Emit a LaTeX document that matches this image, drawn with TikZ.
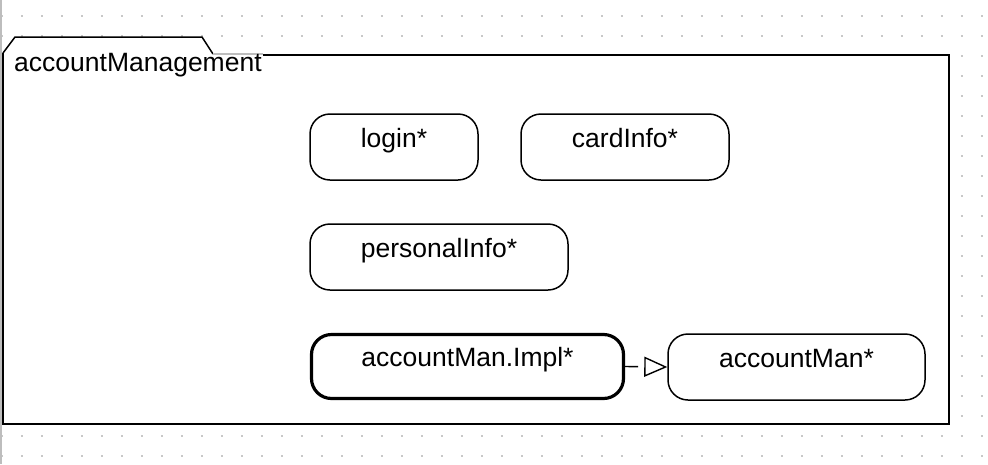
\documentclass[tikz,border=0pt]{standalone}
\usepackage{fontspec}
\setmainfont{Liberation Sans}
\usetikzlibrary{arrows.meta}
\definecolor{dotc}{HTML}{C8C8C8}
\definecolor{edgegray}{HTML}{BDBDBD}
\tikzset{
  box/.style={draw, rounded corners=20pt, line width=1.5pt, fill=white,
    inner sep=0pt, text height=10pt, text depth=10pt,
    font=\fontsize{26.5}{30}\selectfont},
  thickbox/.style={box, line width=3.2pt},
  realize/.style={line width=1.4pt, dash pattern=on 13pt off 60pt,
    -{Triangle[open, length=23pt, width=20pt, line width=1.4pt]}},
}
\begin{document}
\begin{tikzpicture}[x=1pt, y=-1pt]
\useasboundingbox (0,0) rectangle (988,464);
% dotted grid
\foreach \i in {0,...,49}{
  \foreach \j in {0,...,22}{
    \fill[dotc] ({2+20*\i-1},{15.5+20*\j-1}) rectangle ++(2,2);
  }
}
% left gray strip
\fill[edgegray] (0,0) rectangle (1.7,464);
% package frame
\fill[white] (3,54) -- (15,37) -- (202,37) -- (213,54) -- (949,54) -- (949,424) -- (3,424) -- cycle;
\draw[line width=2pt] (263,55) -- (949,55) -- (949,424) -- (3,424) -- (3,53);
\draw[line width=1.5pt] (3,53) -- (15,37) -- (202,37) -- (213,54);
\draw[edgegray, line width=1.5pt] (213,54) -- (263,54);
\node[anchor=base west, inner sep=0pt, font=\fontsize{26.5}{30}\selectfont] (pkg) at (14,71.5) {accountManagement};
% elements
\node[box, minimum width=168pt, minimum height=66pt] (login) at (394,147) {login*};
\node[box, minimum width=208pt, minimum height=66pt] (card) at (625,147) {cardInfo*};
\node[box, minimum width=258pt, minimum height=66pt] (pers) at (439,257) {personalInfo*};
\node[thickbox, minimum width=312pt, minimum height=64pt] (impl) at (467.5,366.5) {accountMan.Impl*};
\node[box, minimum width=257pt, minimum height=66pt] (acc) at (796.5,367) {accountMan*};
% realization
\draw[realize] (impl.east) -- (acc.west);
\end{tikzpicture}
\end{document}
